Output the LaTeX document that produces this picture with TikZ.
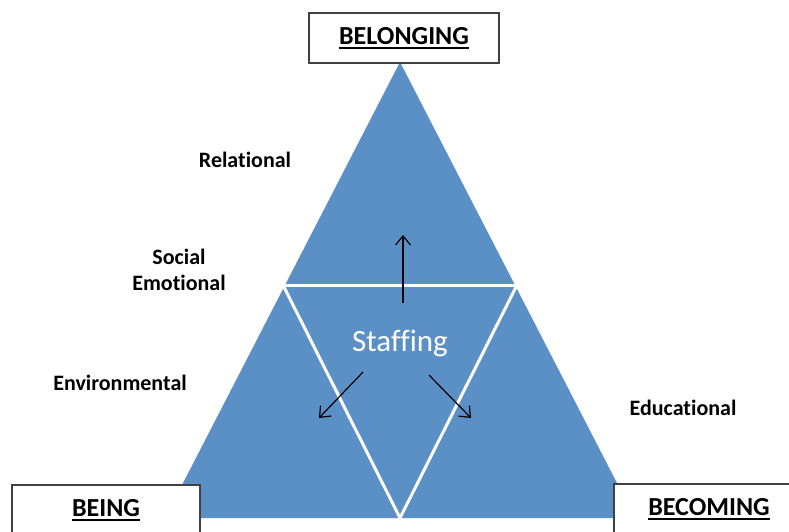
\documentclass[tikz,border=0pt]{standalone}
\usepackage{fontspec}
\setmainfont{Carlito}[Ligatures=NoCommon]
\usetikzlibrary{arrows.meta, positioning}
\definecolor{triblue}{RGB}{91,144,198}
\definecolor{boxgrey}{RGB}{64,64,64}
\newcommand{\ulthick}[1]{\setbox0\hbox{#1}\rlap{\copy0}\rule[-4pt]{\wd0}{2pt}}

\begin{document}
\begin{tikzpicture}[
    x=1pt, y=-1pt,
    corner/.style={draw=boxgrey, line width=1.2pt, fill=white, minimum height=50pt, font=\bfseries\fontsize{26}{30}\selectfont},
    aspect/.style={align=center, font=\bfseries\fontsize{22}{26}\selectfont},
    divide/.style={white, line width=3pt},
    arrow/.style={-{Straight Barb[length=9pt, width=15pt]}, line width=1.2pt}
]
    \useasboundingbox (0,0) rectangle (789,531);
    \clip (0,0) rectangle (789,531);

    % main triangle and the white inner one
    \coordinate (apex) at (400,62);
    \coordinate (baseL) at (165,518);
    \coordinate (baseR) at (635,518);
    \coordinate (midL) at (283,285);
    \coordinate (midR) at (517,285);
    \coordinate (midB) at (400,518);
    \fill[triblue] (apex) -- (baseL) -- (baseR) -- cycle;
    \draw[divide] (midL) -- (midR);
    \draw[divide] (midL) -- (midB) -- (midR);

    \node[corner, minimum width=190pt] (belonging) at (404,38) {\ulthick{BELONGING}};
    \node[corner, minimum width=188pt] (being) at (106,510) {\ulthick{BEING}};
    \node[corner, minimum width=190pt] (becoming) at (709,509) {\ulthick{BECOMING}};

    \node[aspect] (relational) at (245,160) {Relational};
    \node[aspect] (social) at (179,270) {Social\\Emotional};
    \node[aspect] (environmental) at (120,383) {Environmental};
    \node[aspect] (educational) at (683,408) {Educational};
    \node[text=white, font=\fontsize{31}{36}\selectfont] (staffing) at (400,343) {Staffing};

    % arrows out of the staffing triangle
    \coordinate (upFrom) at (403,303);
    \coordinate (upTo) at (403,235);
    \coordinate (leftFrom) at (363,372);
    \coordinate (leftTo) at (319,418);
    \coordinate (rightFrom) at (429,375);
    \coordinate (rightTo) at (471,418);
    \draw[arrow] (upFrom) -- (upTo);
    \draw[arrow] (leftFrom) -- (leftTo);
    \draw[arrow] (rightFrom) -- (rightTo);
\end{tikzpicture}
\end{document}
